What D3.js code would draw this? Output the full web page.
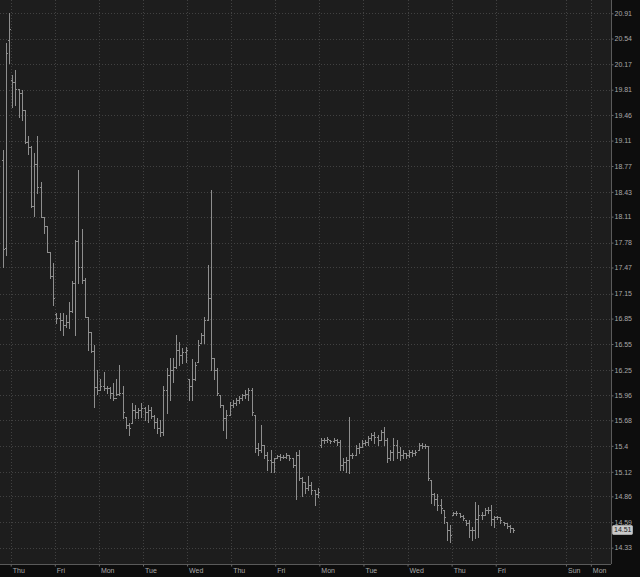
<!DOCTYPE html>
<html><head><meta charset="utf-8">
<script src="https://cdn.jsdelivr.net/npm/d3@7"></script>
<style>html,body{margin:0;padding:0;background:#0d0d0d;overflow:hidden}svg{display:block}</style>
</head><body><svg id="c" width="640" height="577"></svg>
<script>
// 30-minute OHLC bars; first three bars belong to the session before the first "Thu"
const open = [
 18.85,17.71,20.52,
 19.95,19.92,19.82,19.76,19.53,19.09,19.02,18.25,18.80,18.49,18.11,17.99,17.66,17.37,
 16.90,16.86,16.83,16.77,16.81,16.94,17.28,17.80,17.47,17.32,16.87,16.69,16.47,16.05,
 16.02,16.07,16.04,16.04,15.99,15.93,15.98,15.99,15.72,15.63,15.65,15.80,15.77,15.80,
 15.82,15.77,15.80,15.73,15.66,15.60,15.55,16.02,16.19,16.25,16.28,16.48,16.42,16.46,
 16.15,16.07,16.15,16.34,16.56,16.66,16.83,17.10,16.39,16.25,15.96,15.85,15.71,15.74,
 15.85,15.87,15.91,15.93,15.96,15.98,16.02,15.74,15.38,15.36,15.41,15.30,15.25,15.22,
 15.27,15.29,15.28,15.28,15.30,15.27,15.19,15.30,15.05,15.01,14.95,14.98,14.93,14.88,
 15.41,15.46,15.46,15.46,15.45,15.46,15.44,15.19,15.22,15.25,15.30,15.30,15.38,15.39,
 15.43,15.44,15.49,15.52,15.50,15.46,15.55,15.46,15.27,15.33,15.41,15.33,15.30,15.32,
 15.30,15.33,15.32,15.36,15.41,15.40,15.40,15.03,14.88,14.83,14.77,14.72,14.59,14.51,
 14.67,14.69,14.69,14.66,14.61,14.58,14.51,14.51,14.62,14.67,14.67,14.72,14.72,14.62,
 14.64,14.64,14.59,14.58,14.55,14.53
];
const high = [
 18.98,20.48,20.91,
 20.02,20.09,19.82,19.80,19.53,19.17,19.04,18.94,19.17,18.56,18.11,17.99,17.66,17.52,
 16.92,16.92,16.92,16.89,17.05,17.30,17.81,18.72,17.95,17.34,16.87,16.69,16.54,16.25,
 16.15,16.22,16.07,16.05,16.10,16.15,16.31,16.07,15.72,15.65,15.87,15.85,15.82,15.87,
 15.83,15.85,15.83,15.74,15.71,15.68,16.07,16.27,16.39,16.39,16.66,16.57,16.50,16.52,
 16.15,16.37,16.34,16.60,16.68,16.87,17.50,18.45,16.39,16.27,15.96,15.85,15.80,15.88,
 15.91,15.93,15.95,15.98,16.02,16.04,16.04,15.74,15.43,15.63,15.41,15.33,15.36,15.27,
 15.30,15.31,15.30,15.32,15.30,15.27,15.33,15.36,15.06,15.01,15.08,15.01,14.93,14.95,
 15.49,15.49,15.50,15.46,15.49,15.48,15.46,15.27,15.28,15.72,15.32,15.41,15.43,15.46,
 15.46,15.51,15.54,15.55,15.52,15.57,15.61,15.49,15.36,15.49,15.46,15.39,15.36,15.32,
 15.36,15.36,15.36,15.43,15.43,15.42,15.40,15.03,14.90,14.88,14.83,14.72,14.59,14.56,
 14.70,14.71,14.69,14.67,14.61,14.61,14.54,14.80,14.77,14.70,14.74,14.75,14.77,14.66,
 14.66,14.64,14.59,14.58,14.56,14.53
];
const low = [
 17.47,17.63,20.19,
 19.57,19.60,19.43,19.39,19.08,18.93,18.23,18.12,18.41,18.11,17.90,17.66,17.34,17.01,
 16.80,16.71,16.66,16.75,16.74,16.93,16.66,17.28,17.28,16.87,16.48,16.46,15.83,15.98,
 16.02,16.02,15.99,15.93,15.91,15.96,15.96,15.71,15.60,15.52,15.65,15.71,15.71,15.72,
 15.68,15.66,15.71,15.60,15.54,15.51,15.52,15.76,15.91,16.11,16.27,16.31,16.33,16.34,
 15.91,15.91,16.13,16.34,16.56,16.56,16.83,16.25,16.15,15.96,15.83,15.57,15.49,15.74,
 15.83,15.85,15.87,15.91,15.93,15.91,15.74,15.33,15.30,15.33,15.27,15.14,15.12,15.12,
 15.27,15.25,15.27,15.27,15.25,15.17,14.83,15.03,14.86,14.90,14.93,14.88,14.77,14.85,
 15.39,15.43,15.44,15.43,15.44,15.41,15.14,15.14,15.12,15.11,15.27,15.30,15.32,15.39,
 15.41,15.41,15.46,15.43,15.41,15.46,15.41,15.22,15.25,15.25,15.27,15.25,15.27,15.27,
 15.28,15.29,15.30,15.36,15.38,15.38,15.03,14.79,14.77,14.72,14.69,14.58,14.41,14.39,
 14.67,14.67,14.64,14.61,14.56,14.44,14.41,14.43,14.44,14.62,14.67,14.69,14.56,14.54,
 14.62,14.58,14.56,14.53,14.49,14.49
];
const close = [
 17.70,20.33,20.68,
 19.92,19.82,19.76,19.53,19.09,19.02,18.25,18.80,18.49,18.11,17.99,17.66,17.37,17.10,
 16.86,16.83,16.77,16.81,16.94,17.28,17.80,17.47,17.32,16.87,16.69,16.47,16.05,16.02,
 16.07,16.04,16.04,15.99,15.93,15.98,15.99,15.77,15.63,15.60,15.80,15.77,15.80,15.82,
 15.77,15.80,15.73,15.66,15.60,15.55,16.02,16.19,16.25,16.28,16.48,16.42,16.46,16.48,
 16.07,16.15,16.31,16.54,16.66,16.83,17.10,16.39,16.25,15.99,15.85,15.71,15.74,15.85,
 15.87,15.91,15.93,15.96,15.98,16.02,15.77,15.38,15.36,15.41,15.30,15.25,15.22,15.27,
 15.29,15.28,15.28,15.30,15.27,15.19,15.30,15.05,15.01,14.95,14.98,14.93,14.88,14.91,
 15.46,15.46,15.48,15.45,15.46,15.44,15.19,15.22,15.25,15.30,15.30,15.38,15.39,15.43,
 15.44,15.49,15.52,15.50,15.46,15.55,15.46,15.27,15.33,15.41,15.33,15.30,15.32,15.30,
 15.33,15.32,15.33,15.41,15.40,15.40,15.05,14.88,14.83,14.77,14.74,14.64,14.51,14.46,
 14.69,14.69,14.66,14.63,14.58,14.51,14.51,14.62,14.67,14.67,14.72,14.72,14.62,14.64,
 14.64,14.61,14.58,14.55,14.53,14.51
];
const firstBarSlot = -3; // slot of the first bar (slot 0 = first bar of the first "Thu")
const dayLabels = ["Thu","Fri","Mon","Tue","Wed","Thu","Fri","Mon","Tue","Wed","Thu","Fri","Sun","Mon"];
const daySlots  = [-0.5,13.5,27.5,41.5,55.5,69.5,83.5,97.5,111.5,125.5,139.5,153.5,175.8,183.7];
const priceTicks = [20.91,20.54,20.17,19.81,19.46,19.11,18.77,18.43,18.11,17.78,17.47,17.15,16.85,16.55,16.25,15.96,15.68,15.4,15.12,14.86,14.59,14.33];
const lastPrice = 14.51;

const W = 640, H = 577, PR = 611, PB = 564;
const svg = d3.select("#c");
const x = d3.scaleLinear().domain([-3.9, 190.1]).range([0, PR]);
const y = d3.scaleLog().domain([14.33, 20.91]).range([547.7, 13.3]);

svg.append("rect").attr("width", W).attr("height", H).attr("fill", "#0d0d0d");
svg.append("rect").attr("width", PR).attr("height", PB).attr("fill", "#1d1d1d");

const grid = svg.append("g").attr("stroke", "#414141").attr("stroke-dasharray", "1,2").attr("shape-rendering", "crispEdges");
grid.selectAll("line.h").data(priceTicks).join("line").attr("class", "h")
  .attr("x1", 0).attr("x2", PR)
  .attr("y1", d => Math.round(y(d)) + 0.5).attr("y2", d => Math.round(y(d)) + 0.5);
grid.selectAll("line.v").data(daySlots).join("line").attr("class", "v")
  .attr("y1", 0).attr("y2", PB)
  .attr("x1", d => Math.round(x(d)) + 0.5).attr("x2", d => Math.round(x(d)) + 0.5);

// OHLC bars
const bars = open.map((o, i) => ({ i, o, h: high[i], l: low[i], c: close[i] }));
const g = svg.append("g").attr("stroke", "#8e8e8e").attr("stroke-width", 1).attr("shape-rendering", "crispEdges");
const bx = d => Math.round(x(d.i + firstBarSlot)) + 0.5;
g.selectAll("line.hl").data(bars).join("line").attr("class", "hl")
  .attr("x1", bx).attr("x2", bx)
  .attr("y1", d => Math.round(y(d.h))).attr("y2", d => Math.round(y(d.l)) + 1);
g.selectAll("line.o").data(bars).join("line").attr("class", "o")
  .attr("x1", d => bx(d) - 1.5).attr("x2", d => bx(d))
  .attr("y1", d => Math.round(y(d.o)) + 0.5).attr("y2", d => Math.round(y(d.o)) + 0.5);
g.selectAll("line.c").data(bars).join("line").attr("class", "c")
  .attr("x1", d => bx(d)).attr("x2", d => bx(d) + 1.5)
  .attr("y1", d => Math.round(y(d.c)) + 0.5).attr("y2", d => Math.round(y(d.c)) + 0.5);

// right price axis
const ya = svg.append("g").attr("transform", `translate(${PR + 0.5},0)`)
  .call(d3.axisRight(y).tickValues(priceTicks).tickFormat(d => String(d)).tickSize(2).tickPadding(1));
ya.select(".domain").attr("stroke", "#5a5a5a").attr("d", `M0,0V${PB}`);
ya.selectAll(".tick line").attr("stroke", "#6a6a6a");
ya.selectAll(".tick text").attr("fill", "#a8a8a8").style("font", "7px 'Liberation Sans', Arial, sans-serif");

// bottom time axis
const xa = svg.append("g").attr("transform", `translate(0,${PB + 0.5})`)
  .call(d3.axisBottom(x).tickValues(daySlots).tickFormat((d, i) => dayLabels[i]).tickSize(2));
xa.select(".domain").attr("stroke", "#5a5a5a").attr("d", `M0,0H${PR}`);
xa.selectAll(".tick line").attr("stroke", "#6a6a6a");
xa.selectAll(".tick text").attr("fill", "#a8a8a8").attr("text-anchor", "start")
  .attr("x", 1.5).attr("y", 3.5).style("font", "7px 'Liberation Sans', Arial, sans-serif");

// last price marker
const ly = y(lastPrice);
svg.append("rect").attr("x", 612.5).attr("y", Math.round(ly) - 4.5).attr("width", 20).attr("height", 9)
  .attr("fill", "#c9c9c9").attr("stroke", "#e0e0e0").attr("stroke-width", 0.5).attr("rx", 1);
svg.append("text").attr("x", 614).attr("y", ly).attr("dy", "0.35em").attr("fill", "#1a1a1a")
  .style("font", "7px 'Liberation Sans', Arial, sans-serif").text(lastPrice.toFixed(2));
</script></body></html>
